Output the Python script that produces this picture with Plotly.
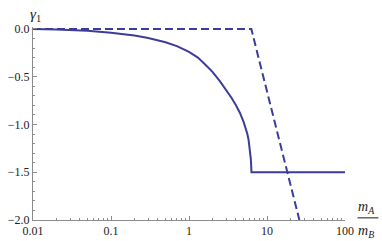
import plotly.graph_objects as go

# Solid curve: gamma_1 versus m_A/m_B
solid_x = [0.01, 0.02, 0.05, 0.1, 0.2, 0.3, 0.5, 0.7, 1.0, 1.3, 1.6, 2.0, 2.5, 3.0, 3.5,
           4.0, 4.5, 5.0, 5.3, 5.6, 5.8, 6.0, 6.1, 6.2, 6.26, 6.3, 6.32, 100.0]
solid_y = [0.0, -0.005, -0.02, -0.04, -0.07, -0.095, -0.14, -0.18, -0.24, -0.30, -0.37,
           -0.45, -0.55, -0.64, -0.72, -0.80, -0.88, -0.97, -1.03, -1.10, -1.16, -1.24,
           -1.29, -1.36, -1.42, -1.47, -1.5, -1.5]

# Dashed curve
dashed_x = [0.01, 6.3, 8.0, 10.0, 13.0, 16.0, 20.0, 26.0]
dashed_y = [0.0, 0.0, -0.34, -0.66, -1.03, -1.33, -1.63, -2.0]

# Tick labels
x_ticks = [0.01, 0.1, 1, 10, 100]
x_ticktext = ["0.01", "0.1", "1", "10", "100"]
y_ticks = [0.0, -0.5, -1.0, -1.5, -2.0]
y_ticktext = ["0.0", "\u22120.5", "\u22121.0", "\u22121.5", "\u22122.0"]
x_minor = [m * 10 ** e for e in range(-2, 2) for m in range(2, 10)]
y_minor = [-i / 10 for i in range(0, 21)]

LINE = "#3d3d99"
AX = "#8c8c8c"
FONT = "Liberation Serif, Times New Roman, serif"

fig = go.Figure()
fig.add_trace(go.Scatter(x=solid_x, y=solid_y, mode="lines",
                         line=dict(color=LINE, width=2), showlegend=False))
fig.add_trace(go.Scatter(x=dashed_x, y=dashed_y, mode="lines",
                         line=dict(color=LINE, width=2, dash="8px,4px"), showlegend=False))

fig.update_layout(
    template="none",
    width=382, height=241,
    margin=dict(l=33, r=37, t=27, b=21, autoexpand=False),
    paper_bgcolor="white", plot_bgcolor="white",
    font=dict(family=FONT, size=12, color="#222"),
    xaxis=dict(type="log", range=[-2, 2], showgrid=False, zeroline=False, automargin=False,
               showline=True, linecolor=AX, linewidth=1,
               tickmode="array", tickvals=x_ticks, ticktext=x_ticktext,
               ticks="inside", ticklen=4, tickcolor=AX, tickwidth=1,
               minor=dict(tickvals=x_minor, ticks="inside", ticklen=2,
                          tickcolor=AX, tickwidth=1, showgrid=False),
               tickfont=dict(family=FONT, size=12, color="#222")),
    yaxis=dict(range=[-2, 0.02], showgrid=False, zeroline=False, automargin=False,
               showline=True, linecolor=AX, linewidth=1,
               tickmode="array", tickvals=y_ticks, ticktext=y_ticktext,
               ticks="inside", ticklen=4, tickcolor=AX, tickwidth=1,
               minor=dict(tickvals=y_minor, ticks="inside", ticklen=2,
                          tickcolor=AX, tickwidth=1, showgrid=False),
               tickfont=dict(family=FONT, size=12, color="#222")),
)

# y axis label
fig.add_annotation(text="<i>\u03b3</i><sub>1</sub>", xref="paper", yref="paper",
                   x=0, y=1, xanchor="center", yanchor="bottom", xshift=2, yshift=1,
                   showarrow=False, font=dict(family=FONT, size=15, color="#222"))
# x axis label as fraction
fig.add_annotation(text="<i>m</i><sub><i>A</i></sub>", xref="paper", yref="paper",
                   x=1, y=0, xanchor="left", yanchor="bottom", xshift=11, yshift=2,
                   showarrow=False, font=dict(family=FONT, size=14, color="#222"))
fig.add_annotation(text="<i>m</i><sub><i>B</i></sub>", xref="paper", yref="paper",
                   x=1, y=0, xanchor="left", yanchor="top", xshift=11, yshift=-1,
                   showarrow=False, font=dict(family=FONT, size=14, color="#222"))
fig.add_shape(type="line", xref="paper", yref="paper",
              x0=1.04, x1=1.107, y0=0.0115, y1=0.0115,
              line=dict(color="#666", width=1.5))

fig.write_html("out.html", config={"displayModeBar": False},
               post_script="document.body.style.margin='0';document.body.style.overflow='hidden';")
